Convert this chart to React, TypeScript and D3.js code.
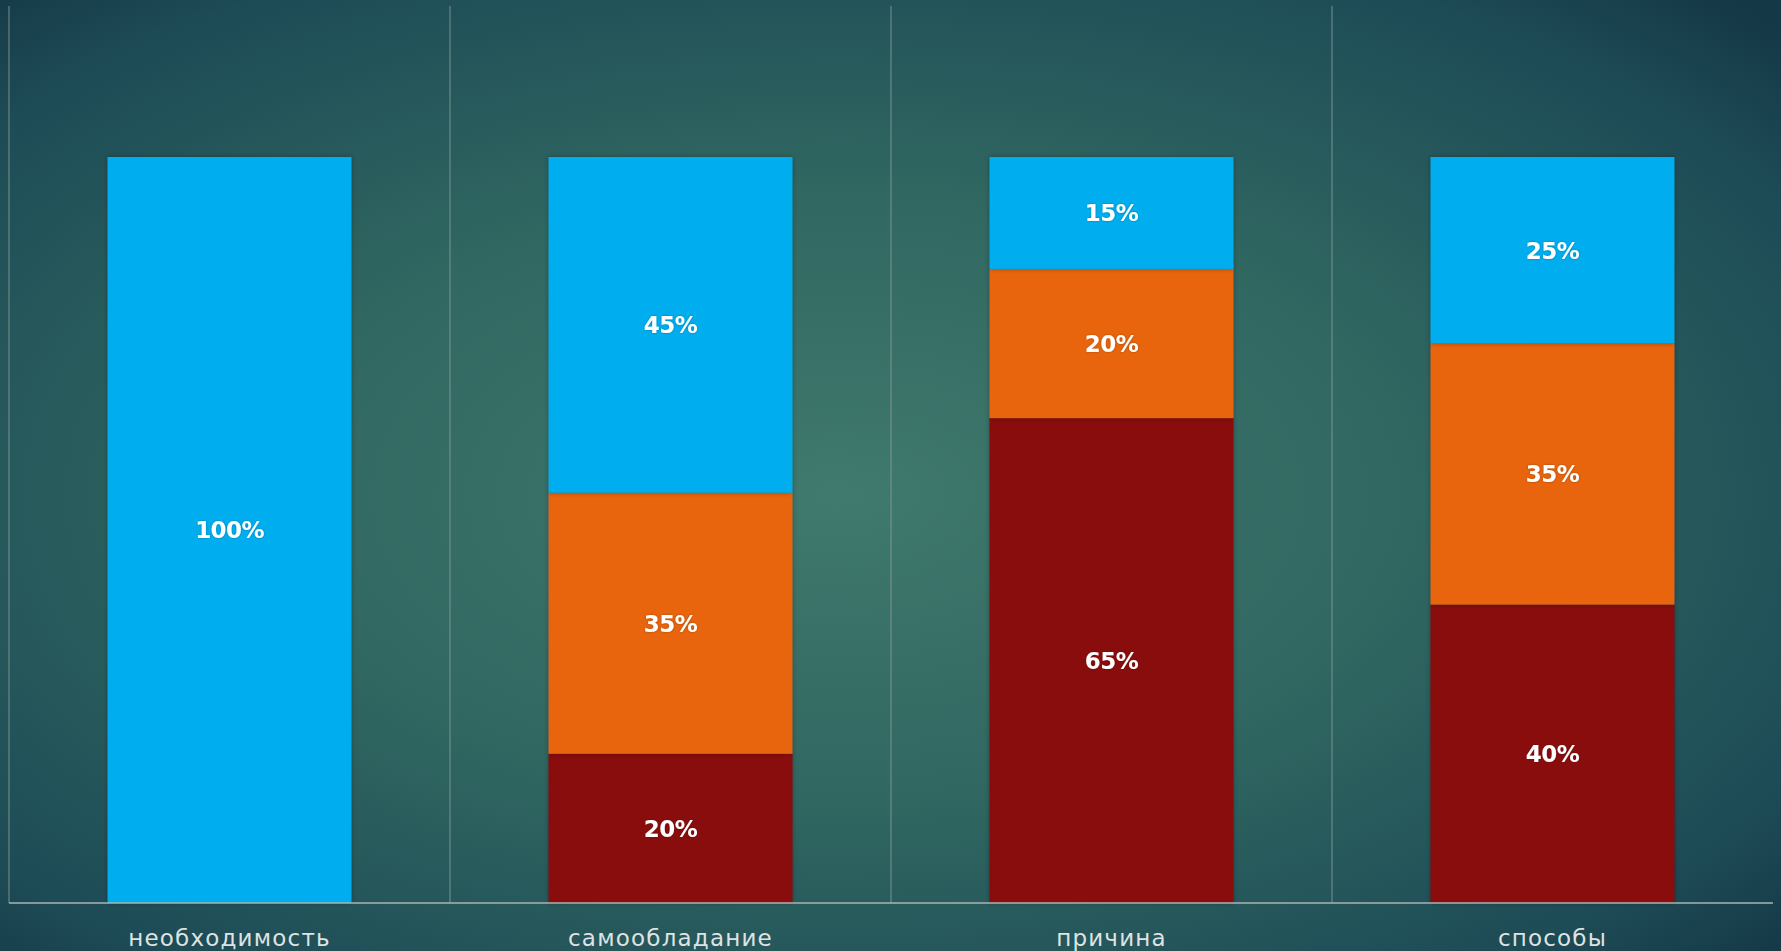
import React from "react";
import * as d3 from "d3";

const categories = ["необходимость", "самообладание", "причина", "способы"];
const seriesKeys = ["red", "orange", "blue"];
const redValues = [0, 20, 65, 40];
const orangeValues = [0, 35, 20, 35];
const blueValues = [100, 45, 15, 25];
const seriesColors = ["#8a0e0f", "#e86511", "#00aeef"];

const W = 1781;
const H = 951;
const left = 9;
const right = 1773;
const top = 157;
const bottom = 903;

export default function App() {
  const rows = categories.map((c, i) => ({
    cat: c,
    red: redValues[i],
    orange: orangeValues[i],
    blue: blueValues[i],
  }));
  const stack = d3.stack<any>().keys(seriesKeys)(rows);
  const x = d3
    .scaleBand<string>()
    .domain(categories)
    .range([left, right])
    .paddingInner(0.447)
    .paddingOuter(0.2235);
  const step = x.step();
  const y = d3.scaleLinear().domain([0, 100]).range([bottom, top]);

  return (
    <svg
      width={W}
      height={H}
      style={{ position: "absolute", left: 0, top: 0, display: "block" }}
    >
      <defs>
        <radialGradient id="bg" cx="0.47" cy="0.52" r="0.72">
          <stop offset="0" stopColor="#40796d" />
          <stop offset="0.45" stopColor="#306761" />
          <stop offset="0.85" stopColor="#1d4b56" />
          <stop offset="1" stopColor="#153846" />
        </radialGradient>
        <filter id="sh" x="-10%" y="-10%" width="120%" height="120%">
          <feDropShadow dx="0" dy="0" stdDeviation="2.5" floodColor="#000" floodOpacity="0.3" />
        </filter>
        <filter id="tsh" x="-20%" y="-20%" width="140%" height="140%">
          <feDropShadow dx="0" dy="0" stdDeviation="0.8" floodColor="#000" floodOpacity="0.3" />
        </filter>
      </defs>
      <rect x={0} y={0} width={W} height={H} fill="url(#bg)" />
      {/* dividers */}
      {categories.map((c, i) => {
        const xx = left + i * step;
        return (
          <line
            key={"d" + i}
            x1={xx}
            x2={xx}
            y1={6}
            y2={bottom}
            stroke="#8a9c9a"
            strokeOpacity={0.7}
            strokeWidth={1.2}
          />
        );
      })}
      {/* bars */}
      {stack.map((s, si) =>
        s.map((d, i) => {
          const h = y(d[0]) - y(d[1]);
          if (h <= 0) return null;
          return (
            <rect
              key={si + "-" + i}
              x={x(categories[i])}
              y={y(d[1])}
              width={x.bandwidth()}
              height={h}
              fill={seriesColors[si]}
              filter="url(#sh)"
            />
          );
        })
      )}
      {/* value labels */}
      {stack.map((s, si) =>
        s.map((d, i) => {
          const v = d[1] - d[0];
          if (v <= 0) return null;
          return (
            <text
              key={"t" + si + "-" + i}
              x={(x(categories[i]) as number) + x.bandwidth() / 2}
              y={(y(d[0]) + y(d[1])) / 2}
              dy="0.36em"
              textAnchor="middle"
              fontFamily="DejaVu Sans, Verdana, sans-serif"
              fontWeight="bold"
              fontSize={23}
              letterSpacing={-0.6}
              fill="#ffffff"
              filter="url(#tsh)"
            >
              {v + "%"}
            </text>
          );
        })
      )}
      {/* axis */}
      <line x1={left} x2={right} y1={bottom} y2={bottom} stroke="#a9b5b3" strokeWidth={1.5} />
      {categories.map((c) => (
        <text
          key={"c" + c}
          x={(x(c) as number) + x.bandwidth() / 2}
          y={946}
          textAnchor="middle"
          fontFamily="DejaVu Sans, Verdana, sans-serif"
          fontSize={23}
          letterSpacing={1.2}
          fill="#dfe3e2"
        >
          {c}
        </text>
      ))}
    </svg>
  );
}
